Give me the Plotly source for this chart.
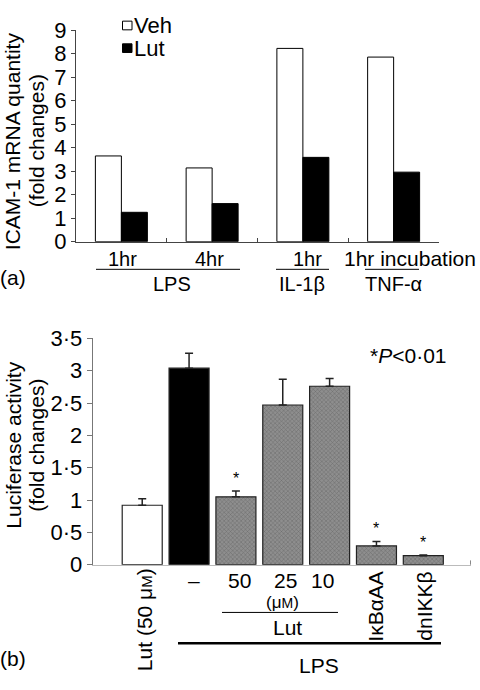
import plotly.graph_objects as go

W, H = 480, 690
FONT = "Liberation Sans, Arial, Helvetica, sans-serif"

# ---------------- Panel (a) data ----------------
a_categories = ["LPS 1hr", "LPS 4hr", "IL-1β 1hr", "TNF-α 1hr incubation"]
a_veh = [3.65, 3.14, 8.23, 7.86]
a_lut = [1.25, 1.62, 3.59, 2.96]
a_yticks = [0, 1, 2, 3, 4, 5, 6, 7, 8, 9]
a_series_names = ["Veh", "Lut"]

# ---------------- Panel (b) data ----------------
b_categories = ["Lut 50", "LPS", "LPS+Lut 50", "LPS+Lut 25", "LPS+Lut 10",
                "LPS+IκBαAA", "LPS+dnIKKβ"]
b_values = [0.92, 3.04, 1.05, 2.47, 2.76, 0.29, 0.14]
b_errors = [0.10, 0.23, 0.09, 0.40, 0.12, 0.07, 0.01]
b_significant = [False, False, True, False, False, True, True]
b_fill = ["white", "black", "hatch", "hatch", "hatch", "hatch", "hatch"]
b_ytickvals = [0, 0.5, 1, 1.5, 2, 2.5, 3, 3.5]
b_yticktext = ["0", "0·5", "1", "1·5", "2", "2·5", "3", "3·5"]

FS = 22


def px(x):
    return x / W


def py(y):
    return 1 - y / H


fig = go.Figure()

fig.add_trace(go.Bar(
    x=a_categories, y=a_veh, name=a_series_names[0],
    marker=dict(color="white", line=dict(color="black", width=1)),
    xaxis="x", yaxis="y", showlegend=False))
fig.add_trace(go.Bar(
    x=a_categories, y=a_lut, name=a_series_names[1],
    marker=dict(color="black", line=dict(color="black", width=1)),
    xaxis="x", yaxis="y", showlegend=False))

colors = []
shapes_pat = []
for f in b_fill:
    if f == "white":
        colors.append("white"); shapes_pat.append("")
    elif f == "black":
        colors.append("black"); shapes_pat.append("")
    else:
        colors.append("#8e8e8e"); shapes_pat.append("x")

fig.add_trace(go.Bar(
    x=b_categories, y=b_values, width=0.854,
    marker=dict(color=colors, line=dict(color="#222", width=1.2),
                pattern=dict(shape=shapes_pat, fgcolor="#444", size=3,
                             solidity=0.3, fillmode="overlay")),
    error_y=dict(type="data", array=b_errors, arrayminus=[0] * len(b_errors),
                 symmetric=False, color="#222", thickness=1.5, width=4),
    xaxis="x2", yaxis="y2", showlegend=False))

ann = []
shp = []


def text(x, y, t, size=FS, angle=0, xanchor="center"):
    ann.append(dict(x=px(x), y=py(y), xref="paper", yref="paper", text=t,
                    showarrow=False, textangle=angle, xanchor=xanchor,
                    yanchor="middle", font=dict(size=size, color="black", family=FONT)))


def hline(x0, x1, y, w=1):
    shp.append(dict(type="line", xref="paper", yref="paper", x0=px(x0), x1=px(x1),
                    y0=py(y), y1=py(y), line=dict(color="black", width=w)))


# legend (a)
shp.append(dict(type="rect", xref="paper", yref="paper", x0=px(122.5), x1=px(132),
                y0=py(18.5), y1=py(9.5), line=dict(color="black", width=1), fillcolor="white"))
shp.append(dict(type="rect", xref="paper", yref="paper", x0=px(122.5), x1=px(132),
                y0=py(42), y1=py(33), line=dict(color="black", width=1), fillcolor="black"))
text(132, 14, a_series_names[0], xanchor="left")
text(132, 38, a_series_names[1], xanchor="left")

# y title (a), two lines set tightly
text(12, 134, "ICAM-1 mRNA quantity", 21, angle=-90)
text(36, 134, "(fold changes)", 21, angle=-90)

# x labels (a)
text(123, 256, "1hr", 20)
text(209, 256, "4hr", 20)
hline(96, 240, 267)
text(172, 282, "LPS", 20)
text(307, 256, "1hr", 20)
hline(276, 329, 267)
text(302, 282, "IL-1β", 20)
text(410, 256, "1hr incubation", 21)
hline(365, 419, 267)
text(393, 282, "TNF-α", 20)
text(13, 275, "(a)", 21)

# panel (b) labels
text(14, 450, "Luciferase activity", 21, angle=-90)
text(37, 450, "(fold changes)", 21, angle=-90)
text(408, 356, "*<i>P</i><0·01", 21)
text(144, 631, "Lut (50 μ<span style='font-size:15px'>M</span>)", 21, angle=-90)
text(194, 590, "–", 21)
text(239, 590, "50", 21)
text(285, 590, "25", 21)
text(322, 590, "10", 21)
text(282, 613, "(μ<span style='font-size:14px'>M</span>)", 17)
hline(222, 338, 623)
text(287, 639, "Lut", 21)
text(376, 617, "IκBαAA", 21, angle=-90)
text(425, 617, "dnIKKβ", 21, angle=-90)
hline(178, 441, 655, 2.5)
text(319, 678, "LPS", 21)
text(13, 671, "(b)", 21)

# significance stars from data
for c, v, e, s in zip(b_categories, b_values, b_errors, b_significant):
    if s:
        ann.append(dict(x=c, y=v + e, xref="x2", yref="y2", text="*", showarrow=False,
                        yanchor="bottom", yshift=2,
                        font=dict(size=16, color="black", family=FONT)))

# end tick on x axis (b)
shp.append(dict(type="line", xref="paper", yref="paper", x0=px(470.5), x1=px(470.5),
                y0=py(573.5), y1=py(569), line=dict(color="#888", width=1)))

fig.update_layout(
    width=W, height=H, autosize=False,
    margin=dict(l=0, r=0, t=0, b=0),
    paper_bgcolor="white", plot_bgcolor="white",
    font=dict(family=FONT, color="black", size=FS),
    barmode="group", bargap=0.427, bargroupgap=0,
    showlegend=False,
    xaxis=dict(domain=[px(76), px(439)], anchor="y", type="category",
               range=[-0.5, 3.5], tickson="boundaries", ticks="inside", ticklen=4,
               tickcolor="#444", showticklabels=False, showline=True,
               linecolor="#444", linewidth=1, showgrid=False, zeroline=False),
    yaxis=dict(domain=[py(238.3), py(19)], anchor="x", range=[0, 9],
               tickvals=a_yticks, ticks="outside", ticklen=4, tickcolor="#444",
               tickfont=dict(size=FS), showline=True, linecolor="#444", linewidth=1,
               showgrid=False, zeroline=False),
    xaxis2=dict(domain=[px(92.7), px(471)], anchor="y2", type="category",
                range=[-1.057, 7.018], ticks="", showticklabels=False,
                showline=True, linecolor="#bbb", linewidth=1.2, showgrid=False,
                zeroline=False),
    yaxis2=dict(domain=[py(573.5), py(338.7)], anchor="x2", range=[0, 3.5],
                tickvals=b_ytickvals, ticktext=b_yticktext, ticks="outside",
                ticklen=5, tickcolor="#777", tickfont=dict(size=FS),
                showline=True, linecolor="#777", linewidth=1.2, showgrid=False,
                zeroline=False),
    annotations=ann, shapes=shp,
)

fig.write_html("out.html", config={"displayModeBar": False},
               post_script="document.body.style.margin='0';document.body.style.overflow='hidden';")
